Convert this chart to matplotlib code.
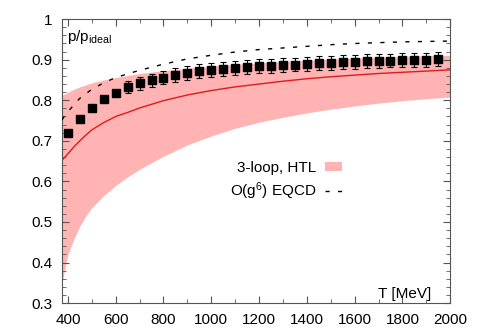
import numpy as np
import matplotlib
matplotlib.use("Agg")
from matplotlib import pyplot as plt
from matplotlib.ticker import MultipleLocator

plt.rcParams['font.family'] = ['Liberation Sans', 'DejaVu Sans']
plt.rcParams['mathtext.fontset'] = 'custom'
plt.rcParams['mathtext.rm'] = 'Liberation Sans'
plt.rcParams['mathtext.it'] = 'Liberation Sans:italic'

# lattice points
T_lat = [400, 450, 500, 550, 600, 650, 700, 750, 800, 850, 900, 950, 1000, 1050,
         1100, 1150, 1200, 1250, 1300, 1350, 1400, 1450, 1500, 1550, 1600, 1650,
         1700, 1750, 1800, 1850, 1900, 1950]
p_lat = [0.719, 0.755, 0.782, 0.802, 0.819, 0.833, 0.842, 0.849, 0.855, 0.862,
         0.868, 0.872, 0.875, 0.877, 0.880, 0.882, 0.884, 0.885, 0.886, 0.888,
         0.890, 0.891, 0.892, 0.894, 0.895, 0.896, 0.897, 0.898, 0.899, 0.899,
         0.900, 0.901]
err_lat = [0.006, 0.006, 0.006, 0.006, 0.006, 0.014, 0.016, 0.016, 0.016, 0.017,
           0.017, 0.017, 0.017, 0.017, 0.017, 0.017, 0.017, 0.017, 0.017, 0.017,
           0.017, 0.017, 0.017, 0.017, 0.017, 0.017, 0.017, 0.017, 0.017, 0.017,
           0.017, 0.017]

# 3-loop HTL band and central line
T_htl = [375, 400, 425, 450, 475, 500, 550, 600, 650, 700, 800, 900, 1000, 1100,
         1200, 1300, 1400, 1500, 1600, 1700, 1800, 1900, 2000]
htl_mid = [0.652, 0.668, 0.685, 0.700, 0.714, 0.727, 0.745, 0.760, 0.770, 0.781,
           0.799, 0.813, 0.824, 0.833, 0.840, 0.847, 0.853, 0.858, 0.862, 0.866,
           0.869, 0.872, 0.875]
htl_low = [0.350, 0.420, 0.458, 0.490, 0.515, 0.535, 0.565, 0.590, 0.611, 0.630,
           0.662, 0.690, 0.712, 0.731, 0.746, 0.758, 0.769, 0.778, 0.786, 0.793,
           0.799, 0.804, 0.808]
htl_high = [0.812, 0.820, 0.827, 0.833, 0.838, 0.843, 0.850, 0.856, 0.861, 0.866,
            0.873, 0.879, 0.884, 0.889, 0.892, 0.896, 0.899, 0.901, 0.904, 0.906,
            0.908, 0.910, 0.911]

# O(g^6) EQCD
T_eqcd = [375, 400, 450, 500, 550, 600, 700, 800, 900, 1000, 1100, 1200, 1300,
          1400, 1500, 1600, 1700, 1800, 1900, 2000]
p_eqcd = [0.752, 0.772, 0.805, 0.827, 0.843, 0.856, 0.874, 0.889, 0.902, 0.911,
          0.919, 0.925, 0.929, 0.933, 0.937, 0.940, 0.942, 0.944, 0.945, 0.946]

fig = plt.figure(figsize=(4.8, 3.36), dpi=100)
ax = fig.add_axes([0.129, 0.098, 0.809, 0.845])

ax.fill_between(T_htl, htl_low, htl_high, color='#ffb3b3', lw=0,
                label='3-loop, HTL', zorder=1)
ax.plot(T_htl, htl_mid, color='#dd1c1c', lw=1.0, zorder=2)
ax.plot(T_eqcd, p_eqcd, color='black', lw=1.0, dashes=(3, 6),
        label='O(g$^6$) EQCD', zorder=3)
ax.errorbar(T_lat, p_lat, yerr=err_lat, fmt='s', color='black', ms=5.5,
            elinewidth=0.8, capsize=2, capthick=0.8, zorder=4)

ax.set_xlim(375, 2000)
ax.set_ylim(0.3, 1.0)
ax.xaxis.set_major_locator(MultipleLocator(200))
ax.xaxis.set_minor_locator(MultipleLocator(100))
ax.yaxis.set_minor_locator(MultipleLocator(0.02))
ax.set_yticks(np.arange(0.3, 1.01, 0.1))
ax.set_yticklabels(['0.3', '0.4', '0.5', '0.6', '0.7', '0.8', '0.9', '1'])
ax.tick_params(which='both', direction='in', top=True, right=True,
               labelsize=11, colors='#555555', labelcolor='black')
ax.tick_params(which='major', length=5, pad=7)
ax.tick_params(which='minor', length=3)
for s in ax.spines.values():
    s.set_color('#555555')

ax.text(0.012, 0.969, 'p/p$_{\\rm ideal}$', transform=ax.transAxes,
        ha='left', va='top', fontsize=11)
ax.text(0.95, 0.019, 'T [MeV]', transform=ax.transAxes,
        ha='right', va='baseline', fontsize=11)

ax.legend(loc='center right', bbox_to_anchor=(0.722, 0.429), frameon=False,
          markerfirst=False, fontsize=11, borderpad=0, borderaxespad=0,
          handlelength=1.1, handletextpad=0.6, labelspacing=0.35,
          handleheight=0.55)

fig.savefig('out.png', dpi=100)
